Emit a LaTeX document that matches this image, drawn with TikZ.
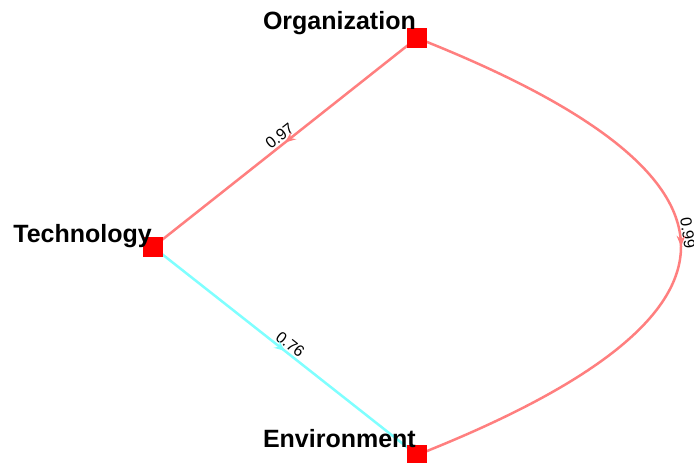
\documentclass[tikz,border=0pt]{standalone}
\usepackage{fontspec}
\setmainfont{Liberation Sans}
\usetikzlibrary{calc}
\definecolor{edgered}{HTML}{FF7F7F}
\definecolor{edgecyan}{HTML}{7FFFFF}
\tikzset{
  sq/.style={fill=red, draw=none, minimum size=19.5pt, inner sep=0pt},
  vlabel/.style={font=\fontsize{25}{30}\selectfont\bfseries, inner sep=0pt, anchor=base east},
  elabel/.style={font=\fontsize{16}{19}\selectfont, inner sep=1.5pt, sloped, above, text=black},
  linkline/.style={line width=2.5pt}
}
\newcommand{\midhead}[3]{% tip, back point, colour
  \fill[#3] ($(#1)!11pt!(#2)!4.5pt!90:(#1)$) -- (#1) -- ($(#1)!11pt!(#2)!4.5pt!-90:(#1)$) -- ($(#1)!7pt!(#2)$) -- cycle;}
\begin{document}
\begin{tikzpicture}[x=1pt,y=-1pt]
\useasboundingbox (0,0) rectangle (694,463);
\coordinate (o) at (417,38);
\coordinate (t) at (153,247);
\coordinate (e) at (417,455);
\coordinate (m1) at ($(o)!0.5!(t)$);
\coordinate (m2) at ($(t)!0.5!(e)$);
\coordinate (m3) at (681,246.5);
\coordinate (m3back) at (681,177);
% edges
\draw[linkline, edgered] (o) -- (t) node[elabel, midway] (l1) {0.97};
\midhead{m1}{o}{edgered}
\draw[linkline, edgecyan] (t) -- (e) node[elabel, midway] (l2) {0.76};
\midhead{m2}{t}{edgecyan}
\draw[linkline, edgered] (o) .. controls (769,177) and (769,316) .. (e) node[elabel, pos=0.47, inner sep=1pt] (l3) {0.99};
\midhead{m3}{m3back}{edgered}
% nodes
\node[sq] (org) at (o) {};
\node[sq] (tech) at (t) {};
\node[sq] (env) at (e) {};
\node[vlabel] (orglab) at (416,30) {Organization};
\node[vlabel] (techlab) at (152,242) {Technology};
\node[vlabel] (envlab) at (416,447) {Environment};
\end{tikzpicture}
\end{document}
